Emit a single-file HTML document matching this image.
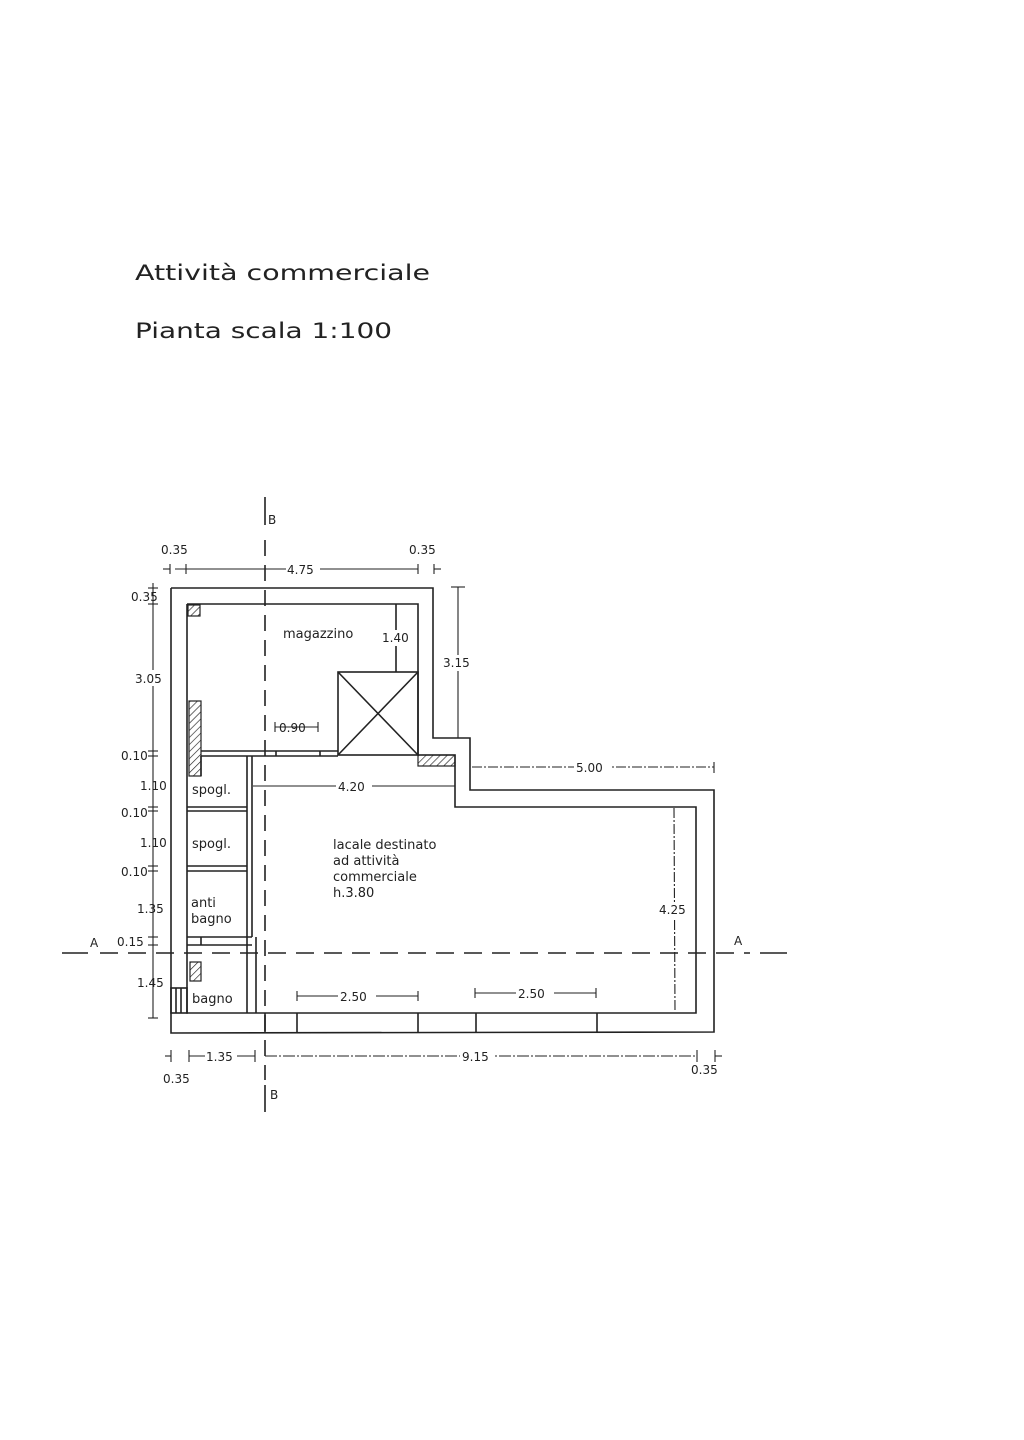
<!DOCTYPE html>
<html><head><meta charset="utf-8"><style>
html,body{margin:0;padding:0;background:#fff;}
svg{display:block;}
text{font-family:"DejaVu Sans","Liberation Sans",sans-serif;fill:#222;}
</style></head><body>
<svg width="1024" height="1440" viewBox="0 0 1024 1440" xmlns="http://www.w3.org/2000/svg">
<defs>
<pattern id="h" width="5" height="5" patternUnits="userSpaceOnUse" patternTransform="rotate(45)">
<line x1="0" y1="0" x2="0" y2="5" stroke="#222" stroke-width="1.3"/></pattern>
</defs>
<rect width="1024" height="1440" fill="#fff"/>
<text x="135" y="280" font-size="21" textLength="295" lengthAdjust="spacingAndGlyphs">Attività commerciale</text>
<text x="135" y="338" font-size="21" textLength="257" lengthAdjust="spacingAndGlyphs">Pianta scala 1:100</text>

<g stroke="#222" stroke-width="1.6" fill="none">
<!-- outer wall -->
<polyline points="171,588 433,588 433,738 470,738 470,790 714,790 714,1032 171,1033 171,588"/>
<!-- inner -->
<polyline points="187,604 418,604 418,755 455,755 455,807 696,807 696,1013 187,1013 187,604"/>
<!-- bottom window marks -->
<line x1="265" y1="1013" x2="265" y2="1033"/>
<line x1="297" y1="1013" x2="297" y2="1033"/>
<line x1="418" y1="1013" x2="418" y2="1033"/>
<line x1="476" y1="1013" x2="476" y2="1033"/>
<line x1="597" y1="1013" x2="597" y2="1033"/>
<!-- wall magazzino bottom -->
<line x1="201" y1="751" x2="338" y2="751"/>
<line x1="201" y1="756" x2="338" y2="756"/>
<line x1="276" y1="751" x2="276" y2="756"/>
<line x1="320" y1="751" x2="320" y2="756"/>
<!-- lift box -->
<rect x="338" y="672" width="80" height="83"/>
<line x1="338" y1="672" x2="418" y2="755"/>
<line x1="418" y1="672" x2="338" y2="755"/>
<line x1="396" y1="604" x2="396" y2="672"/>
<!-- small rooms -->
<line x1="247" y1="756" x2="247" y2="1013"/>
<line x1="252" y1="756" x2="252" y2="937"/>
<line x1="256" y1="937" x2="256" y2="1013"/>
<line x1="187" y1="807" x2="247" y2="807"/>
<line x1="187" y1="811" x2="247" y2="811"/>
<line x1="187" y1="866" x2="247" y2="866"/>
<line x1="187" y1="871" x2="247" y2="871"/>
<line x1="187" y1="937" x2="252" y2="937"/>
<line x1="187" y1="945" x2="252" y2="945"/>
<line x1="201" y1="937" x2="201" y2="945"/>
<line x1="201" y1="756" x2="201" y2="776"/>
<!-- bagno left stripes -->
<rect x="171" y="988" width="16" height="25"/>
<line x1="176" y1="988" x2="176" y2="1013"/>
<line x1="181" y1="988" x2="181" y2="1013"/>
</g>
<!-- hatched -->
<g stroke="#222" stroke-width="1.2">
<rect x="188" y="605" width="12" height="11" fill="url(#h)"/>
<rect x="189" y="701" width="12" height="75" fill="url(#h)"/>
<rect x="418" y="755" width="37" height="11" fill="url(#h)"/>
<rect x="190" y="962" width="11" height="19" fill="url(#h)"/>
</g>

<!-- section lines -->
<g stroke="#222" stroke-width="1.6" fill="none">
<line x1="265" y1="497" x2="265" y2="525"/>
<line x1="265" y1="1085" x2="265" y2="1112"/>
<line x1="265" y1="540" x2="265" y2="1080" stroke-dasharray="16,9"/>
<line x1="62" y1="953" x2="88" y2="953"/>
<line x1="760" y1="953" x2="787" y2="953"/>
<line x1="100" y1="953" x2="750" y2="953" stroke-dasharray="18,10"/>
</g>
<text x="268" y="524" font-size="12" font-family="Liberation Serif">B</text>
<text x="270" y="1099" font-size="12" font-family="Liberation Serif">B</text>
<text x="90" y="947" font-size="12">A</text>
<text x="734" y="945" font-size="12">A</text>

<!-- dimension lines -->
<g stroke="#222" stroke-width="1.1" fill="none">
<line x1="175" y1="569" x2="418" y2="569"/>
<line x1="170" y1="564" x2="170" y2="574"/><line x1="186" y1="564" x2="186" y2="574"/>
<line x1="418" y1="564" x2="418" y2="574"/><line x1="434" y1="564" x2="434" y2="574"/>
<line x1="163" y1="569" x2="170" y2="569"/><line x1="434" y1="569" x2="441" y2="569"/>
<!-- left vertical -->
<line x1="153" y1="583" x2="153" y2="1018"/>
<line x1="148" y1="588" x2="158" y2="588"/>
<line x1="148" y1="604" x2="158" y2="604"/>
<line x1="148" y1="751" x2="158" y2="751"/><line x1="148" y1="756" x2="158" y2="756"/>
<line x1="148" y1="807" x2="158" y2="807"/><line x1="148" y1="811" x2="158" y2="811"/>
<line x1="148" y1="866" x2="158" y2="866"/><line x1="148" y1="871" x2="158" y2="871"/>
<line x1="148" y1="937" x2="158" y2="937"/><line x1="148" y1="945" x2="158" y2="945"/>
<line x1="148" y1="1018" x2="158" y2="1018"/>
<!-- right 3.15 -->
<line x1="458" y1="587" x2="458" y2="738"/>
<line x1="451" y1="587" x2="465" y2="587"/>
<!-- 0.90 -->
<line x1="275" y1="722" x2="275" y2="732"/><line x1="275" y1="727" x2="318" y2="727"/><line x1="318" y1="722" x2="318" y2="732"/>
<!-- 4.20 -->
<line x1="253" y1="786" x2="455" y2="786"/>
<!-- 5.00 -->
<line x1="472" y1="767" x2="714" y2="767" stroke-dasharray="10,2,2,2"/>
<line x1="714" y1="762" x2="714" y2="773"/>
<!-- 4.25 -->
<line x1="674" y1="808" x2="675" y2="1012" stroke-dasharray="10,2,2,2"/>
<!-- 2.50s -->
<line x1="297" y1="996" x2="418" y2="996"/><line x1="297" y1="991" x2="297" y2="1001"/><line x1="418" y1="991" x2="418" y2="1001"/>
<line x1="475" y1="993" x2="596" y2="993"/><line x1="475" y1="988" x2="475" y2="998"/><line x1="596" y1="988" x2="596" y2="998"/>
<!-- bottom -->
<line x1="165" y1="1056" x2="171" y2="1056"/><line x1="171" y1="1050" x2="171" y2="1062"/>
<line x1="189" y1="1050" x2="189" y2="1062"/><line x1="189" y1="1056" x2="255" y2="1056"/>
<line x1="255" y1="1050" x2="255" y2="1062"/>
<line x1="265" y1="1056" x2="697" y2="1056" stroke-dasharray="12,2,2,2"/>
<line x1="697" y1="1050" x2="697" y2="1062"/>
<line x1="715" y1="1050" x2="715" y2="1062"/><line x1="715" y1="1056" x2="722" y2="1056"/>
</g>
<g fill="#fff">
<rect x="286" y="562" width="34" height="14"/>
<rect x="336" y="779" width="36" height="14"/>
<rect x="574" y="760" width="36" height="14"/>
<rect x="338" y="989" width="38" height="14"/>
<rect x="516" y="986" width="38" height="14"/>
<rect x="205" y="1049" width="32" height="14"/>
<rect x="460" y="1049" width="34" height="14"/>
<rect x="132" y="670" width="34" height="16"/>
<rect x="442" y="655" width="30" height="16"/>
<rect x="380" y="630" width="30" height="16"/>
<rect x="660" y="902" width="30" height="16"/>
</g>
<g font-size="12">
<text x="161" y="554">0.35</text>
<text x="409" y="554">0.35</text>
<text x="287" y="574">4.75</text>
<text x="131" y="601">0.35</text>
<text x="135" y="683">3.05</text>
<text x="121" y="760">0.10</text>
<text x="140" y="790">1.10</text>
<text x="121" y="817">0.10</text>
<text x="140" y="847">1.10</text>
<text x="121" y="876">0.10</text>
<text x="137" y="913">1.35</text>
<text x="117" y="946">0.15</text>
<text x="137" y="987">1.45</text>
<text x="443" y="667">3.15</text>
<text x="382" y="642">1.40</text>
<text x="279" y="732">0.90</text>
<text x="338" y="791">4.20</text>
<text x="576" y="772">5.00</text>
<text x="659" y="914">4.25</text>
<text x="340" y="1001">2.50</text>
<text x="518" y="998">2.50</text>
<text x="206" y="1061">1.35</text>
<text x="462" y="1061">9.15</text>
<text x="163" y="1083">0.35</text>
<text x="691" y="1074">0.35</text>
<text x="283" y="638" font-size="13">magazzino</text>
<text x="192" y="794" font-size="13">spogl.</text>
<text x="192" y="848" font-size="13">spogl.</text>
<text x="191" y="907" font-size="13">anti</text>
<text x="191" y="923" font-size="13">bagno</text>
<text x="192" y="1003" font-size="13">bagno</text>
<text x="333" y="849" font-size="13">lacale destinato</text>
<text x="333" y="865" font-size="13">ad attività</text>
<text x="333" y="881" font-size="13">commerciale</text>
<text x="333" y="897" font-size="13">h.3.80</text>
</g>
</svg>
</body></html>
